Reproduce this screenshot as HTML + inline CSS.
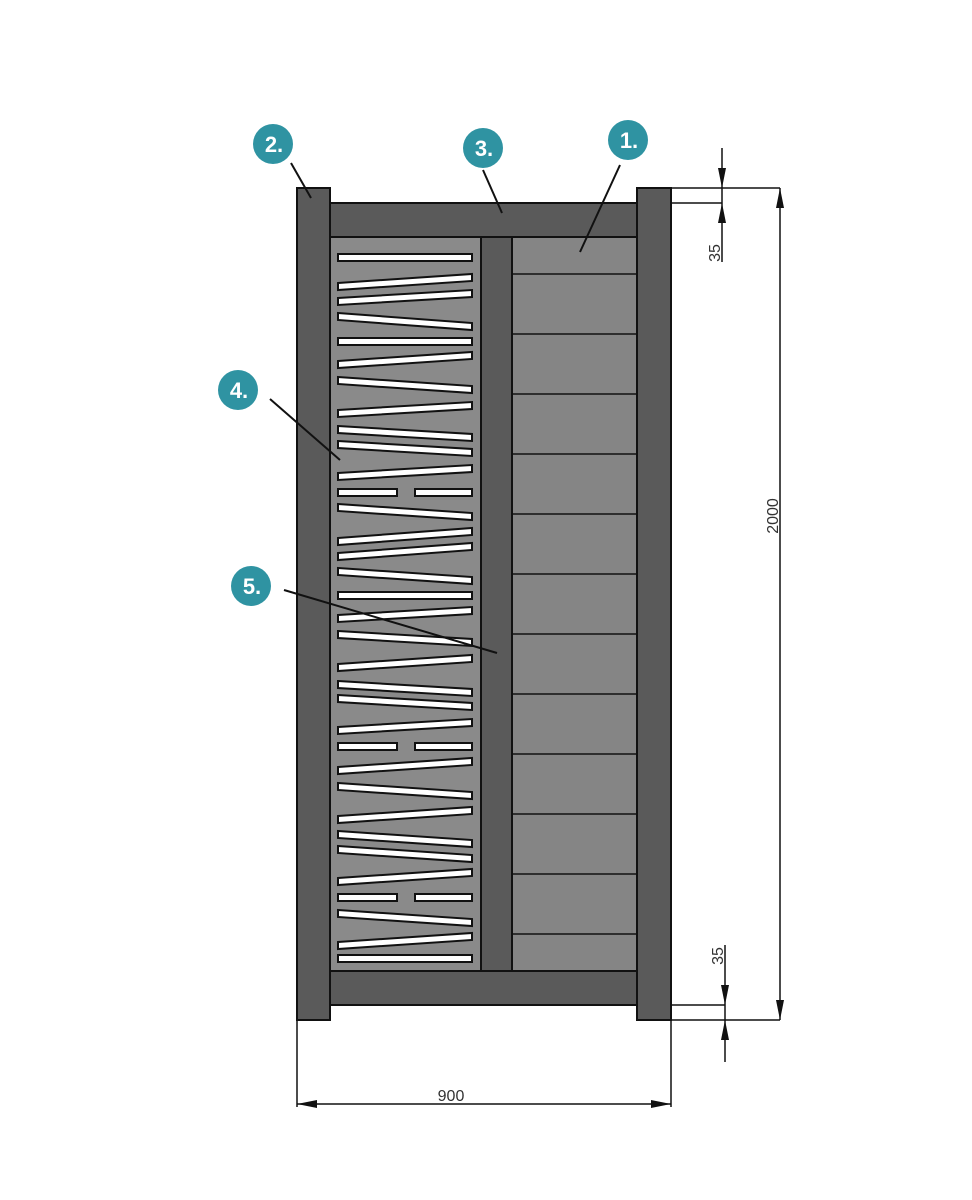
<!DOCTYPE html>
<html><head><meta charset="utf-8"><style>body{margin:0;background:#fff}svg{display:block}</style></head>
<body>
<svg width="972" height="1200" viewBox="0 0 972 1200" xmlns="http://www.w3.org/2000/svg">
<g stroke="#111" stroke-width="2">
<rect x="330" y="237" width="151" height="734" fill="#8a8a8a"/>
<rect x="512" y="237" width="125" height="734" fill="#858585"/>
<rect x="481" y="237" width="31" height="734" fill="#5a5a5a"/>
<rect x="330" y="203" width="307" height="34" fill="#5a5a5a"/>
<rect x="330" y="971" width="307" height="34" fill="#5a5a5a"/>
<rect x="297" y="188" width="33" height="832" fill="#5a5a5a"/>
<rect x="637" y="188" width="34" height="832" fill="#5a5a5a"/>
</g>
<g stroke="#111" stroke-width="1.5">
<line x1="512" y1="274" x2="637" y2="274"/><line x1="512" y1="334" x2="637" y2="334"/>
<line x1="512" y1="394" x2="637" y2="394"/><line x1="512" y1="454" x2="637" y2="454"/>
<line x1="512" y1="514" x2="637" y2="514"/><line x1="512" y1="574" x2="637" y2="574"/>
<line x1="512" y1="634" x2="637" y2="634"/><line x1="512" y1="694" x2="637" y2="694"/>
<line x1="512" y1="754" x2="637" y2="754"/><line x1="512" y1="814" x2="637" y2="814"/>
<line x1="512" y1="874" x2="637" y2="874"/><line x1="512" y1="934" x2="637" y2="934"/>
</g>
<g fill="#fff" stroke="#111" stroke-width="2">
<polygon points="338,254 472,254 472,261 338,261"/>
<polygon points="338,283 472,274 472,281 338,290"/>
<polygon points="338,298 472,290 472,297 338,305"/>
<polygon points="338,313 472,323 472,330 338,320"/>
<polygon points="338,338 472,338 472,345 338,345"/>
<polygon points="338,361 472,352 472,359 338,368"/>
<polygon points="338,377 472,386 472,393 338,384"/>
<polygon points="338,410 472,402 472,409 338,417"/>
<polygon points="338,426 472,434 472,441 338,433"/>
<polygon points="338,441 472,449 472,456 338,448"/>
<polygon points="338,473 472,465 472,472 338,480"/>
<polygon points="338,489 397,489 397,496 338,496"/>
<polygon points="415,489 472,489 472,496 415,496"/>
<polygon points="338,504 472,513 472,520 338,511"/>
<polygon points="338,538 472,528 472,535 338,545"/>
<polygon points="338,553 472,543 472,550 338,560"/>
<polygon points="338,568 472,577 472,584 338,575"/>
<polygon points="338,592 472,592 472,599 338,599"/>
<polygon points="338,615 472,607 472,614 338,622"/>
<polygon points="338,631 472,639 472,646 338,638"/>
<polygon points="338,664 472,655 472,662 338,671"/>
<polygon points="338,681 472,689 472,696 338,688"/>
<polygon points="338,695 472,703 472,710 338,702"/>
<polygon points="338,727 472,719 472,726 338,734"/>
<polygon points="338,743 397,743 397,750 338,750"/>
<polygon points="415,743 472,743 472,750 415,750"/>
<polygon points="338,767 472,758 472,765 338,774"/>
<polygon points="338,783 472,792 472,799 338,790"/>
<polygon points="338,816 472,807 472,814 338,823"/>
<polygon points="338,831 472,840 472,847 338,838"/>
<polygon points="338,846 472,855 472,862 338,853"/>
<polygon points="338,878 472,869 472,876 338,885"/>
<polygon points="338,894 397,894 397,901 338,901"/>
<polygon points="415,894 472,894 472,901 415,901"/>
<polygon points="338,910 472,919 472,926 338,917"/>
<polygon points="338,942 472,933 472,940 338,949"/>
<polygon points="338,955 472,955 472,962 338,962"/>
</g>
<g stroke="#111" stroke-width="1.5" fill="none">
<line x1="671" y1="188" x2="780" y2="188"/>
<line x1="671" y1="203" x2="722" y2="203"/>
<line x1="722" y1="148" x2="722" y2="262"/>
<line x1="780" y1="188" x2="780" y2="1020"/>
<line x1="671" y1="1005" x2="725" y2="1005"/>
<line x1="671" y1="1020" x2="780" y2="1020"/>
<line x1="725" y1="945" x2="725" y2="1062"/>
<line x1="297" y1="1020" x2="297" y2="1107"/>
<line x1="671" y1="1020" x2="671" y2="1107"/>
<line x1="297" y1="1104" x2="671" y2="1104"/>
</g>
<g fill="#111">
<polygon points="718,168 726,168 722,188"/>
<polygon points="718,223 726,223 722,203"/>
<polygon points="776,208 784,208 780,188"/>
<polygon points="776,1000 784,1000 780,1020"/>
<polygon points="721,985 729,985 725,1005"/>
<polygon points="721,1040 729,1040 725,1020"/>
<polygon points="317,1100 317,1108 297,1104"/>
<polygon points="651,1100 651,1108 671,1104"/>
</g>
<g font-family="Liberation Sans, sans-serif" font-size="16" fill="#333">
<text x="451" y="1101" text-anchor="middle">900</text>
<text transform="translate(778,516) rotate(-90)" text-anchor="middle">2000</text>
<text transform="translate(720,253) rotate(-90)" text-anchor="middle">35</text>
<text transform="translate(723,956) rotate(-90)" text-anchor="middle">35</text>
</g>
<g stroke="#111" stroke-width="2">
<line x1="291" y1="163" x2="311" y2="198"/>
<line x1="483" y1="170" x2="502" y2="213"/>
<line x1="620" y1="165" x2="580" y2="252"/>
<line x1="270" y1="399" x2="340" y2="460"/>
<line x1="284" y1="590" x2="497" y2="653"/>
</g>
<g fill="#2f93a2">
<circle cx="273" cy="144" r="20"/>
<circle cx="483" cy="148" r="20"/>
<circle cx="628" cy="140" r="20"/>
<circle cx="238" cy="390" r="20"/>
<circle cx="251" cy="586" r="20"/>
</g>
<g font-family="Liberation Sans, sans-serif" font-size="22" font-weight="bold" fill="#fff" text-anchor="middle">
<text x="274" y="152">2.</text>
<text x="484" y="156">3.</text>
<text x="629" y="148">1.</text>
<text x="239" y="398">4.</text>
<text x="252" y="594">5.</text>
</g>
</svg>
</body></html>
